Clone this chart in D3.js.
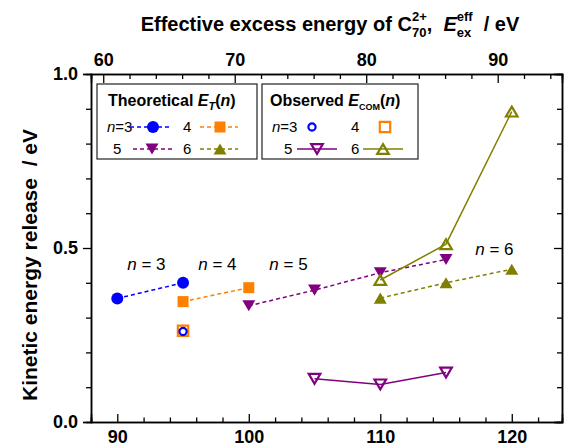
<!DOCTYPE html>
<html>
<head>
<meta charset="utf-8">
<script src="https://cdn.jsdelivr.net/npm/d3@7"></script>
<style>
  body { margin: 0; background: #fff; }
  text { font-family: Arial, "Liberation Sans", sans-serif; fill: #000; }
</style>
</head>
<body>
<div id="chart"></div>
<script>
// Theoretical E_T(n): [excitation energy, KER]
var theo3 = [[90, 0.355], [95, 0.400]];
var theo4 = [[95, 0.346], [100, 0.386]];
var theo5 = [[100, 0.334], [105, 0.379], [110, 0.429], [115, 0.467]];
var theo6 = [[110, 0.356], [115, 0.400], [120, 0.439]];

// Observed E_COM(n)
var obs3 = [[95, 0.260]];
var obs4 = [[95, 0.262]];
var obs5 = [[105, 0.124], [110, 0.108], [115, 0.142]];
var obs6 = [[110, 0.408], [115, 0.511], [120, 0.892]];

// tick values
var xMajor = [90, 100, 110, 120];
var xMinor = [88, 92, 94, 96, 98, 102, 104, 106, 108, 112, 114, 116, 118, 122];
var topMajor = [60, 70, 80, 90];
var topMinor = [62, 64, 66, 68, 72, 74, 76, 78, 82, 84, 86, 88, 92, 94];
var yMajor = [0, 0.5, 1.0];
var yMinor = [0.1, 0.2, 0.3, 0.4, 0.6, 0.7, 0.8, 0.9];

// annotation labels: [n, x, y]
var nLabels = [[3, 90.76, 0.437], [4, 96.16, 0.437], [5, 101.56, 0.437], [6, 117.22, 0.48]];

var colors = {3: "#0000ff", 4: "#ff7f00", 5: "#800080", 6: "#808000"};

var W = 564, H = 447;
var margin = {top: 74, right: 2, bottom: 25, left: 91};
var width = W - margin.left - margin.right,
    height = H - margin.top - margin.bottom;

var svg = d3.select("#chart").append("svg")
  .attr("width", W).attr("height", H);

var g = svg.append("g")
  .attr("transform", "translate(" + margin.left + "," + margin.top + ")");

var xScale = d3.scaleLinear().domain([88, 123.82]).range([0, width]);
var topScale = d3.scaleLinear().domain([59.07, 94.89]).range([0, width]);
var yScale = d3.scaleLinear().domain([0, 1]).range([height, 0]);

function styleAxis(sel) {
  sel.select(".domain").attr("stroke", "#000").attr("stroke-width", 1.5);
  sel.selectAll(".tick line").attr("stroke", "#000").attr("stroke-width", 1.3);
  sel.selectAll(".tick text").attr("font-size", 18).attr("font-weight", "bold")
    .attr("font-family", "Arial, 'Liberation Sans', sans-serif");
}

// bottom axis
g.append("g").attr("transform", "translate(0," + height + ")")
  .call(d3.axisBottom(xScale).tickValues(xMinor).tickSize(-4.5).tickFormat(""))
  .call(styleAxis);
g.append("g").attr("transform", "translate(0," + height + ")")
  .call(d3.axisBottom(xScale).tickValues(xMajor).tickSize(-8).tickPadding(8).tickFormat(d3.format("d")))
  .call(styleAxis);

// top axis
g.append("g")
  .call(d3.axisTop(topScale).tickValues(topMinor).tickSize(-5).tickFormat(""))
  .call(styleAxis);
g.append("g")
  .call(d3.axisTop(topScale).tickValues(topMajor).tickSize(-9).tickPadding(8).tickFormat(d3.format("d")))
  .call(styleAxis);

// left axis
g.append("g")
  .call(d3.axisLeft(yScale).tickValues(yMinor).tickSize(5).tickFormat(""))
  .call(styleAxis);
g.append("g")
  .call(d3.axisLeft(yScale).tickValues(yMajor).tickSize(8).tickPadding(5).tickFormat(d3.format(".1f")))
  .call(styleAxis);

// right axis
g.append("g").attr("transform", "translate(" + width + ",0)")
  .call(d3.axisRight(yScale).tickValues(yMinor).tickSize(-5).tickFormat(""))
  .call(styleAxis);
g.append("g").attr("transform", "translate(" + width + ",0)")
  .call(d3.axisRight(yScale).tickValues(yMajor).tickSize(-8).tickFormat(""))
  .call(styleAxis);

// marker paths
function markerPath(type, s) {
  if (type === "circle") return d3.symbol(d3.symbolCircle, Math.PI * s * s)();
  if (type === "square") return "M" + (-s) + "," + (-s) + "h" + (2 * s) + "v" + (2 * s) + "h" + (-2 * s) + "Z";
  var w = s, h = s * 0.85;
  if (type === "up") return "M0," + (-h) + "L" + w + "," + h + "L" + (-w) + "," + h + "Z";
  return "M0," + h + "L" + w + "," + (-h) + "L" + (-w) + "," + (-h) + "Z";
}

var line = d3.line().x(function(d) { return xScale(d[0]); }).y(function(d) { return yScale(d[1]); });

function drawSeries(data, color, type, filled, dashed) {
  if (data.length > 1) {
    g.append("path").datum(data)
      .attr("d", line)
      .attr("fill", "none")
      .attr("stroke", color)
      .attr("stroke-width", 1.5)
      .attr("stroke-dasharray", dashed ? "4,3" : null);
  }
  var size = filled ? (type === "circle" ? 6 : type === "square" ? 5.5 : 6.5) :
                      (type === "circle" ? 3.6 : type === "square" ? 5.2 : 5.8);
  g.selectAll(null).data(data).enter().append("path")
    .attr("transform", function(d) { return "translate(" + xScale(d[0]) + "," + yScale(d[1]) + ")"; })
    .attr("d", markerPath(type, size))
    .attr("fill", filled ? color : "none")
    .attr("stroke", filled ? "none" : color)
    .attr("stroke-width", filled ? 0 : 2.2);
}

drawSeries(theo3, colors[3], "circle", true, true);
drawSeries(theo4, colors[4], "square", true, true);
drawSeries(theo5, colors[5], "down", true, true);
drawSeries(theo6, colors[6], "up", true, true);
drawSeries(obs4, colors[4], "square", false, false);
drawSeries(obs3, colors[3], "circle", false, false);
drawSeries(obs5, colors[5], "down", false, false);
drawSeries(obs6, colors[6], "up", false, false);

// n = ... labels
nLabels.forEach(function(d) {
  var t = g.append("text")
    .attr("x", xScale(d[1])).attr("y", yScale(d[2]))
    .attr("font-size", 17);
  t.append("tspan").attr("font-style", "italic").text("n");
  t.append("tspan").text(" = " + d[0]);
});

// rich text helper: segments laid out left to right, "stack" puts next one at same x
function richText(parent, x, y, segs, anchor) {
  var grp = parent.append("g");
  var cx = 0, stackW = null;
  segs.forEach(function(s) {
    var t = grp.append("text")
      .attr("x", cx).attr("y", s.dy || 0)
      .attr("font-size", s.size)
      .attr("font-weight", s.bold ? "bold" : "normal")
      .attr("font-style", s.italic ? "italic" : "normal")
      .attr("xml:space", "preserve")
      .style("white-space", "pre")
      .text(s.t);
    var w = t.node().getComputedTextLength();
    if (s.stack) {
      stackW = w;
    } else {
      cx += Math.max(w, stackW || 0);
      stackW = null;
    }
  });
  var dx = anchor === "middle" ? -cx / 2 : 0;
  grp.attr("transform", "translate(" + (x + dx) + "," + y + ")");
  return grp;
}

// top title
richText(svg, 330, 31, [
  {t: "Effective excess energy of C", size: 20, bold: true},
  {t: "2+", size: 13, bold: true, dy: -10, stack: true},
  {t: "70", size: 13, bold: true, dy: 6},
  {t: ",  ", size: 20, bold: true},
  {t: "E", size: 20, bold: true, italic: true},
  {t: "eff", size: 13, bold: true, dy: -10, stack: true},
  {t: "ex", size: 13, bold: true, dy: 6},
  {t: "  / eV", size: 20, bold: true}
], "middle");

// y title
svg.append("text")
  .attr("transform", "translate(37,265) rotate(-90)")
  .attr("text-anchor", "middle")
  .attr("font-size", 21).attr("font-weight", "bold")
  .attr("xml:space", "preserve")
  .style("white-space", "pre")
  .text("Kinetic energy release  / eV");

// legend boxes
svg.append("rect").attr("x", 97).attr("y", 84).attr("width", 160).attr("height", 75)
  .attr("fill", "#fff").attr("stroke", "#222").attr("stroke-width", 1.2);
svg.append("rect").attr("x", 262).attr("y", 84).attr("width", 156).attr("height", 75)
  .attr("fill", "#fff").attr("stroke", "#222").attr("stroke-width", 1.2);

richText(svg, 108, 106, [
  {t: "Theoretical ", size: 16, bold: true},
  {t: "E", size: 16, bold: true, italic: true},
  {t: "T", size: 11, bold: true, italic: true, dy: 4},
  {t: "(", size: 16, bold: true},
  {t: "n", size: 16, bold: true, italic: true},
  {t: ")", size: 16, bold: true}
], "start");

richText(svg, 270, 106, [
  {t: "Observed ", size: 16, bold: true},
  {t: "E", size: 16, bold: true, italic: true},
  {t: "COM", size: 9, bold: true, dy: 4},
  {t: "(", size: 16, bold: true},
  {t: "n", size: 16, bold: true, italic: true},
  {t: ")", size: 16, bold: true}
], "start");

function legendLabel(x, y, n, withN) {
  var t = svg.append("text").attr("x", x).attr("y", y).attr("font-size", 15);
  if (withN) {
    t.append("tspan").attr("font-style", "italic").text("n");
    t.append("tspan").text("=" + n);
  } else {
    t.text(n);
  }
}

function legendEntry(x1, x2, xm, y, color, type, filled, dashed) {
  if (x2 > x1) {
    svg.append("line").attr("x1", x1).attr("x2", x2).attr("y1", y).attr("y2", y)
      .attr("stroke", color).attr("stroke-width", 1.5)
      .attr("stroke-dasharray", dashed ? "4,3" : null);
  }
  var size = filled ? (type === "circle" ? 6 : type === "square" ? 5.5 : 6.5) :
                      (type === "circle" ? 3.6 : type === "square" ? 5.2 : 5.8);
  svg.append("path")
    .attr("transform", "translate(" + xm + "," + y + ")")
    .attr("d", markerPath(type, size))
    .attr("fill", filled ? color : "none")
    .attr("stroke", filled ? "none" : color)
    .attr("stroke-width", filled ? 0 : 2.2);
}

// theoretical legend rows
legendLabel(107, 132, 3, true);
legendEntry(130, 172, 153, 127, colors[3], "circle", true, true);
legendLabel(183, 132, 4, false);
legendEntry(200, 238, 220, 127, colors[4], "square", true, true);
legendLabel(113, 154, 5, false);
legendEntry(133, 172, 152, 149, colors[5], "down", true, true);
legendLabel(183, 154, 6, false);
legendEntry(200, 238, 220, 149, colors[6], "up", true, true);

// observed legend rows
legendLabel(272, 132, 3, true);
legendEntry(0, 0, 312, 127, colors[3], "circle", false, false);
legendLabel(351, 132, 4, false);
legendEntry(0, 0, 385, 127, colors[4], "square", false, false);
legendLabel(284, 154, 5, false);
legendEntry(297, 337, 317, 149, colors[5], "down", false, false);
legendLabel(351, 154, 6, false);
legendEntry(363, 403, 383, 149, colors[6], "up", false, false);
</script>
</body>
</html>
